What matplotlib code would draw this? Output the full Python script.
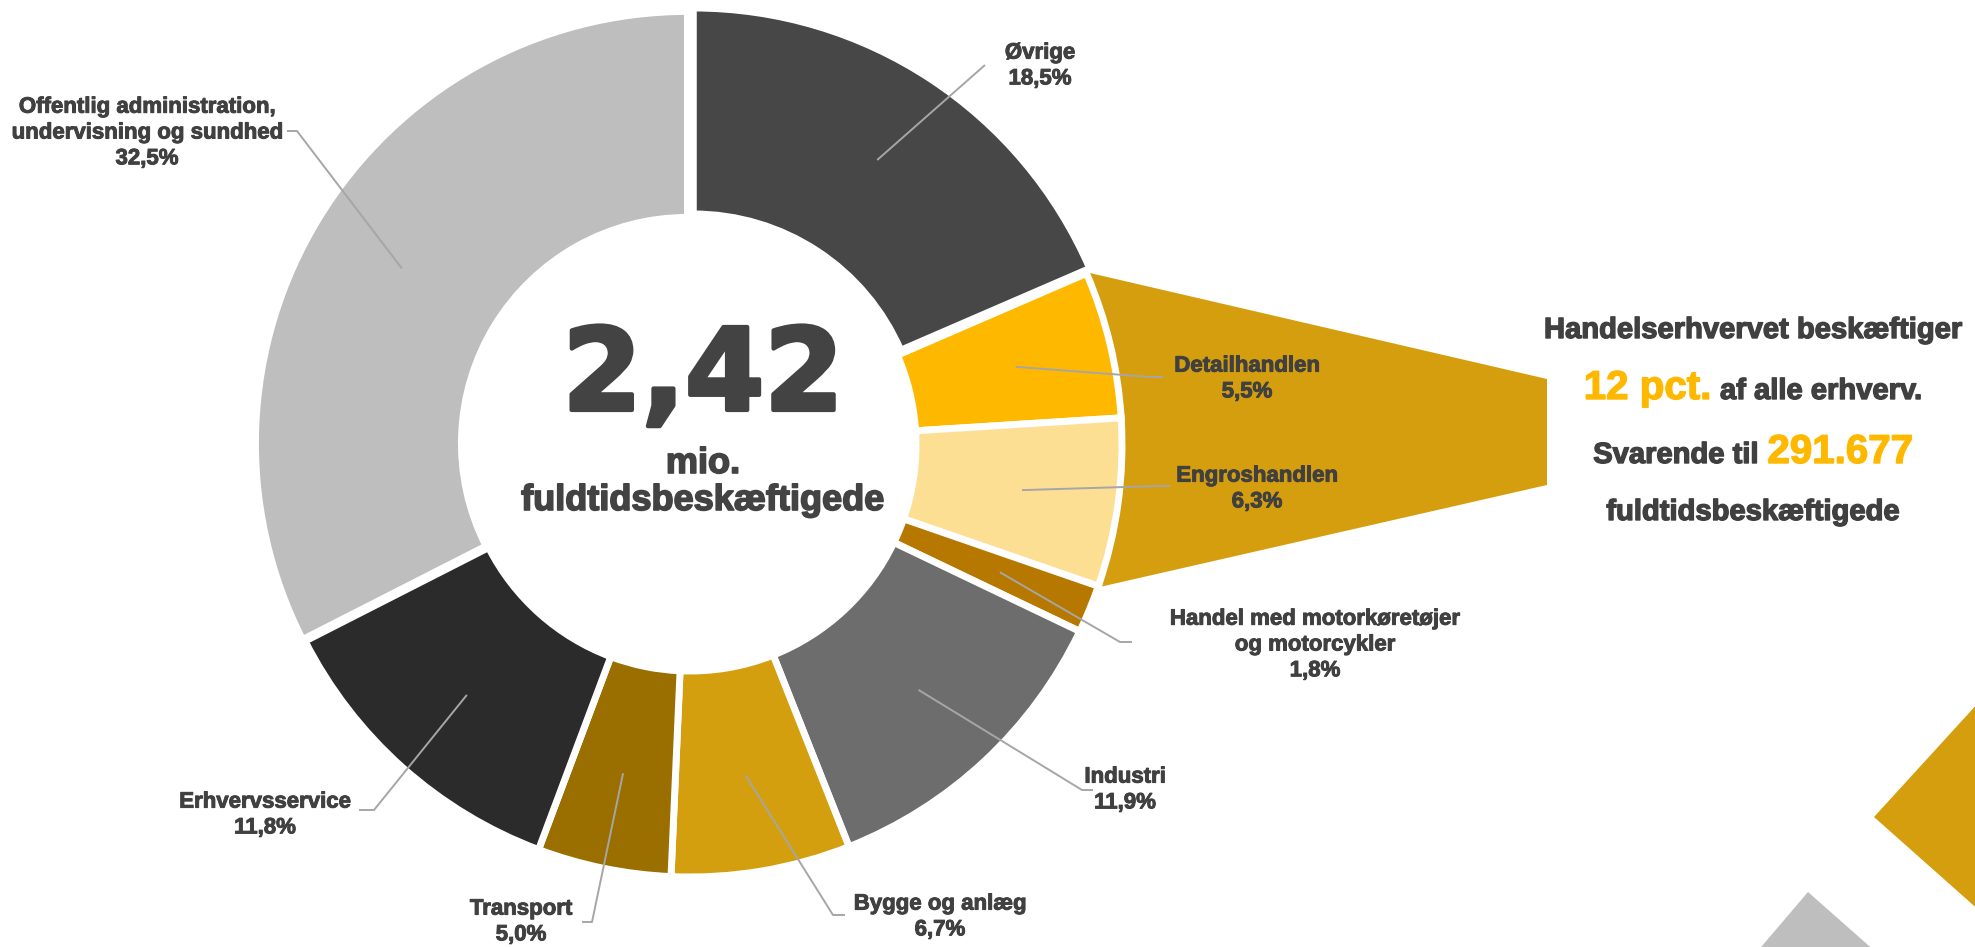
import numpy as np
import matplotlib
matplotlib.use("Agg")
import matplotlib.pyplot as plt
from matplotlib.patches import Polygon
import matplotlib.patheffects as pe

# ---------------- data ----------------
categories = ["Øvrige", "Detailhandlen", "Engroshandlen",
              "Handel med motorkøretøjer\nog motorcykler", "Industri",
              "Bygge og anlæg", "Transport", "Erhvervsservice",
              "Offentlig administration,\nundervisning og sundhed"]
shares = [18.5, 5.5, 6.3, 1.8, 11.9, 6.7, 5.0, 11.8, 32.5]
colors = ["#474747", "#FFB800", "#FDDF94", "#B77800", "#6D6D6D",
          "#D49F0E", "#9A6F00", "#2B2B2B", "#BEBEBE"]
total_text = "2,42"
total_unit = ["mio.", "fuldtidsbeskæftigede"]
trade_share_text = "12 pct."
trade_count_text = "291.677"
trade_idx = [1, 2]  # Detail + Engros pulled out

# --------------- layout (pixel space) ---------------
W, H = 1975, 947
fig = plt.figure(figsize=(W / 100, H / 100), dpi=100)
ax = fig.add_axes([0, 0, 1, 1])

def Y(y):
    return H - y

cx, cy = 690, Y(445)
R = 432
ring = 206
explode = [6, 0, 0, 0, 0, 0, 0, 0, 3]

DARK = "#404040"
ORANGE = "#FFB800"
LEAD = "#A6A6A6"
SANS = ["Liberation Sans", "DejaVu Sans"]

def heavy(col, lw):
    return [pe.withStroke(linewidth=lw, foreground=col)]

wedges, _ = ax.pie(shares, colors=colors, startangle=90, counterclock=False,
                   center=(cx, cy), radius=R, explode=explode,
                   wedgeprops=dict(width=ring, edgecolor="white", linewidth=5,
                                   joinstyle="miter"),
                   normalize=True)
for w in wedges:
    w.set_zorder(3)

# boundaries of each wedge in degrees
cum = np.concatenate([[0], np.cumsum(shares)]) / np.sum(shares)
ang = 90 - 360 * cum
mids = (ang[:-1] + ang[1:]) / 2

# connector polygon for trade
a_top = np.deg2rad(ang[trade_idx[0]])
a_bot = np.deg2rad(ang[trade_idx[-1] + 1])
arc = np.linspace(a_bot, a_top, 40)
pts = [(cx + (R - 60) * np.cos(a), cy + (R - 60) * np.sin(a)) for a in arc]
pts += [(cx + (R + 2) * np.cos(a_top), cy + (R + 2) * np.sin(a_top)),
        (1547, Y(379)), (1547, Y(485)),
        (cx + (R + 2) * np.cos(a_bot), cy + (R + 2) * np.sin(a_bot))]
ax.add_patch(Polygon(pts, closed=True, facecolor="#D59E0E", edgecolor="none",
                     zorder=1))

# labels
label_pos = [(1040, 66), (1247, 379), (1257, 489), (1315, 645), (1125, 790),
             (940, 917), (521, 922), (265, 815), (147, 133)]
leader_pts = [[(985, 65)],
              [(1150, 377), (1163, 377)],
              [(1158, 486), (1170, 486)],
              [(1120, 642), (1132, 642)],
              [(1082, 790), (1093, 790)],
              [(833, 915), (845, 915)],
              [(592, 922), (582, 922)],
              [(374, 810), (359, 810)],
              [(297, 131), (287, 131)]]
r_lead = 335
for i, (name, v) in enumerate(zip(categories, shares)):
    txt = f"{name}\n{v:.1f}".replace(".", ",") + "%"
    lx, ly = label_pos[i]
    ax.text(lx, Y(ly), txt, ha="center", va="center", fontsize=16,
            fontweight="bold", color=DARK, family=SANS, linespacing=1.3,
            zorder=6, path_effects=heavy(DARK, 0.7))
    a = np.deg2rad(mids[i])
    ex = explode[i]
    sx = cx + (r_lead + ex) * np.cos(a)
    sy = cy + (r_lead + ex) * np.sin(a)
    xs = [sx] + [p[0] for p in leader_pts[i]]
    ys = [sy] + [Y(p[1]) for p in leader_pts[i]]
    ax.plot(xs, ys, color=LEAD, lw=1.4, zorder=5, solid_capstyle="butt")

# center text
ax.text(703, Y(410), total_text, ha="center", va="baseline", fontsize=82,
        fontweight="bold", color="#434343", family=["DejaVu Sans"], zorder=6,
        path_effects=heavy("#434343", 3))
ax.text(703, Y(473), total_unit[0], ha="center", va="baseline", fontsize=26,
        fontweight="bold", color="#434343", family=SANS, zorder=6,
        path_effects=heavy("#434343", 1.2))
ax.text(703, Y(510), total_unit[1], ha="center", va="baseline", fontsize=26,
        fontweight="bold", color="#434343", family=SANS, zorder=6,
        path_effects=heavy("#434343", 1.2))

# right text block
renderer = fig.canvas.get_renderer()

def line(pieces, xc, yb, gap=9):
    objs = []
    for s, size, col in pieces:
        t = ax.text(0, Y(yb), s, ha="left", va="baseline", fontsize=size,
                    fontweight="bold", color=col, family=SANS, zorder=6,
                    path_effects=heavy(col, 1.0))
        objs.append(t)
    widths = [t.get_window_extent(renderer).width for t in objs]
    total = sum(widths) + gap * (len(objs) - 1)
    x = xc - total / 2
    for t, w in zip(objs, widths):
        t.set_x(x)
        x += w + gap

xc_r = 1753
line([("Handelserhvervet beskæftiger", 21, DARK)], xc_r, 338)
line([(trade_share_text, 29, ORANGE), ("af alle erhverv.", 21, DARK)], xc_r, 399)
line([("Svarende til", 21, DARK), (trade_count_text, 29, ORANGE)], xc_r, 463)
line([("fuldtidsbeskæftigede", 21, DARK)], xc_r, 520)

# decorative shapes bottom-right
ax.add_patch(Polygon([(1874, Y(817)), (1990, Y(690)), (2100, Y(817)),
                      (1990, Y(920))], closed=True, facecolor="#D59E0E",
                     edgecolor="none", zorder=1))
ax.add_patch(Polygon([(1808, Y(892)), (1750, Y(960)), (1885, Y(960))],
                     closed=True, facecolor="#BEBEBE", edgecolor="none",
                     zorder=1))

ax.set_xlim(0, W)
ax.set_ylim(0, H)
ax.set_aspect("equal")
ax.set_axis_off()
fig.savefig("out.png", dpi=100, facecolor="white")
